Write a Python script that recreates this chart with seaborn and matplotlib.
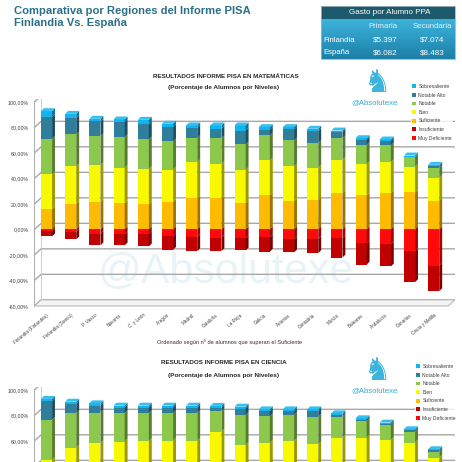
import numpy as np
import matplotlib
matplotlib.use("Agg")
import matplotlib.pyplot as plt
import seaborn as sns
from matplotlib.patches import Polygon, Rectangle, Patch
import matplotlib.colors as mcolors

sns.set_theme(style="white")
plt.rcParams['font.family'] = ['Liberation Sans', 'DejaVu Sans']

# ---------------- data ----------------
regiones = ["Finlandia (Finlandés)", "Finlandia (Sueco)", "P. Vasco", "Navarra", "C. y León",
            "Aragón", "Madrid", "Cataluña", "La Rioja", "Galicia", "Asturias", "Cantabria",
            "Murcia", "Baleares", "Andalucía", "Canarias", "Ceuta y Melilla"]

niveles = ["Sobresaliente", "Notable Alto", "Notable", "Bien", "Suficiente",
           "Insuficiente", "Muy Deficiente"]

# Matemáticas (%)
mat_sobresaliente = [4.7, 3.4, 2.1, 2.1, 3.6, 2.6, 2.1, 2.6, 4.0, 2.1, 1.9, 1.9, 1.3, 1.3, 1.1, 0.8, 1.0]
mat_notable_alto = [17.0, 12.8, 11.5, 11.8, 11.8, 11.3, 7.9, 7.4, 10.9, 4.5, 8.6, 9.4, 4.7, 3.9, 3.6, 0.5, 1.3]
mat_notable = [28.0, 25.1, 23.0, 24.0, 23.0, 22.0, 18.8, 20.1, 19.9, 19.6, 20.4, 19.3, 17.0, 14.9, 13.1, 7.7, 7.9]
mat_bien = [26.9, 29.2, 28.8, 27.8, 28.0, 25.6, 28.5, 27.2, 26.2, 27.4, 27.4, 25.1, 26.1, 24.8, 24.3, 20.0, 17.8]
mat_suficiente = [16.2, 20.2, 21.4, 20.6, 19.6, 21.4, 24.3, 24.3, 20.6, 26.7, 22.0, 23.3, 28.5, 26.7, 28.5, 29.0, 22.7]
mat_muy_deficiente = [1.5, 2.0, 3.4, 3.9, 3.4, 5.5, 6.0, 6.5, 6.8, 6.0, 7.8, 7.3, 6.8, 11.0, 11.5, 17.0, 28.4]
mat_insuficiente = [4.0, 5.8, 9.1, 8.6, 9.9, 10.5, 11.0, 10.5, 9.7, 11.4, 10.2, 11.3, 15.2, 16.5, 17.5, 24.3, 20.0]

# Ciencia (%) - lower part of the chart is cut off in the picture
cie_sobresaliente = [2.0, 1.8, 1.7, 1.5, 1.5, 1.5, 1.5, 1.5, 1.5, 1.5, 1.5, 1.5, 1.2, 1.1, 1.0, 1.0, 0.8]
cie_notable_alto = [14.5, 7.3, 5.6, 4.5, 4.5, 4.5, 4.5, 2.6, 5.0, 4.0, 3.0, 4.5, 1.5, 1.3, 1.2, 1.0, 1.2]
cie_notable = [31.4, 26.9, 24.0, 22.2, 21.7, 21.4, 21.7, 16.1, 23.5, 20.6, 20.3, 21.4, 16.4, 12.8, 11.4, 8.5, 4.5]
cie_bien = [27.0, 30.5, 31.0, 31.5, 31.0, 31.0, 32.0, 35.0, 30.5, 31.0, 32.0, 31.0, 33.0, 33.5, 32.5, 31.0, 26.0]
cie_suficiente = [18.1, 24.3, 27.2, 28.0, 29.0, 29.3, 28.0, 32.3, 26.4, 27.7, 28.0, 26.4, 29.6, 29.1, 28.3, 27.7, 21.0]

colores = {"Sobresaliente": "#12b4ee", "Notable Alto": "#2f7f9c", "Notable": "#8cc84b",
           "Bien": "#f8f800", "Suficiente": "#ffbb00", "Insuficiente": "#c00000",
           "Muy Deficiente": "#ff0a0a"}

yticks = [-60, -40, -20, 0, 20, 40, 60, 80, 100]

# ---------------- figure ----------------
W_PX = 462
fig = plt.figure(figsize=(4.62, 4.62), dpi=100)
fig.patch.set_facecolor("white")

def fx(px):
    return px / W_PX

def fy(py):
    return (W_PX - py) / W_PX

BAR_W = 0.46
DX, DY = 0.12, 2.3          # 3D depth in data units
WX, WY = 0.28, 4.8          # back wall offset


def shade(c, f):
    r, g, b = mcolors.to_rgb(c)
    return (r * f, g * f, b * f)


def lighten(c, f):
    r, g, b = mcolors.to_rgb(c)
    return (r + (1 - r) * f, g + (1 - g) * f, b + (1 - b) * f)


def draw_chart(ax, cats, pos_names, pos_vals, neg_names, neg_vals, show_xlabels=True,
               min_label=-60):
    n = len(cats)
    x = np.arange(n)
    xl0, xl1 = -0.5, 16.88
    ax.set_facecolor("none")
    # back wall grid lines (3D-ish)
    for v in yticks:
        ax.plot([xl0, xl0 + WX, xl1], [v, v + WY, v + WY], color="#a8a8a8", lw=1.0, zorder=0.5,
                solid_joinstyle="miter")
    ax.plot([xl0, xl0], [-60, 100], color="#b0b0b0", lw=0.8, zorder=0.5)
    ax.plot([xl0 + WX, xl0 + WX], [-60 + WY, 100 + WY], color="#c8c8c8", lw=0.6, zorder=0.5)
    # floor
    ax.fill([xl0, xl0 + WX, xl1, xl1 - WX], [-60, -60 + WY, -60 + WY, -60], color="#f4f4f4",
            edgecolor="#b8b8b8", lw=0.8, zorder=0.6)

    pos = np.array(pos_vals, dtype=float)          # bottom -> top order
    cum = np.cumsum(pos, axis=0)
    for i in range(len(pos) - 1, -1, -1):
        sns.barplot(x=list(cats), y=cum[i], color=colores[pos_names[i]], width=BAR_W,
                    saturation=1, errorbar=None, ax=ax, linewidth=0, zorder=2)
    if neg_vals is not None:
        neg = np.array(neg_vals, dtype=float)       # near zero -> far
        ncum = -np.cumsum(neg, axis=0)
        for i in range(len(neg) - 1, -1, -1):
            sns.barplot(x=list(cats), y=ncum[i], color=colores[neg_names[i]], width=BAR_W,
                        saturation=1, errorbar=None, ax=ax, linewidth=0, zorder=2)
    # side faces and tops
    segs = []
    bottoms = np.vstack([np.zeros(n), cum[:-1]])
    for i in range(len(pos)):
        segs.append((bottoms[i], cum[i], pos_names[i]))
    if neg_vals is not None:
        nb = np.vstack([np.zeros(n), ncum[:-1]])
        for i in range(len(neg)):
            segs.append((ncum[i], nb[i], neg_names[i]))
    for j in range(n):
        xr = x[j] + BAR_W / 2
        for b, t, name in segs:
            if t[j] - b[j] <= 0:
                continue
            ax.add_patch(Polygon([(xr, b[j]), (xr + DX, b[j] + DY), (xr + DX, t[j] + DY), (xr, t[j])],
                                 closed=True, facecolor=shade(colores[name], 0.62),
                                 edgecolor="none", zorder=2.1))
        top = cum[-1][j]
        ax.add_patch(Polygon([(x[j] - BAR_W / 2, top), (x[j] - BAR_W / 2 + DX, top + DY),
                              (xr + DX, top + DY), (xr, top)], closed=True,
                             facecolor=lighten(colores[pos_names[-1]], 0.15), edgecolor="none",
                             zorder=2.1))
    ax.set_xlim(xl0, xl1)
    ax.set_ylim(-62, 102)
    shown = [v for v in yticks if v >= min_label]
    ax.set_yticks(shown)
    ax.set_yticklabels([f"{v:.2f}%".replace(".", ",") for v in shown], fontsize=3.8, color="#404040")
    ax.set_xticks(x)
    if show_xlabels:
        ax.set_xticklabels(cats, rotation=40, ha="right", va="top", rotation_mode="anchor",
                           fontsize=3.3, color="#404040")
    else:
        ax.set_xticklabels([])
    ax.tick_params(axis="both", length=0)
    ax.tick_params(axis="y", pad=4)
    ax.tick_params(axis="x", pad=3)
    ax.set_xlabel("")
    ax.set_ylabel("")
    for s in ax.spines.values():
        s.set_visible(False)
    ax.grid(False)


pos_names = ["Suficiente", "Bien", "Notable", "Notable Alto", "Sobresaliente"]
neg_names = ["Muy Deficiente", "Insuficiente"]

# big watermark (behind the bars)
fig.text(fx(226), fy(272), "@Absolutexe", fontsize=31, color="#e8f3f8", ha="center",
         va="center", zorder=-1)

ax1 = fig.add_axes([fx(34.4), fy(308.5), 420.6 / W_PX, 209.1 / W_PX])
draw_chart(ax1, regiones, pos_names,
           [mat_suficiente, mat_bien, mat_notable, mat_notable_alto, mat_sobresaliente],
           neg_names, [mat_muy_deficiente, mat_insuficiente])

# science chart: only its upper part fits in the picture
ax2 = fig.add_axes([fx(34.4), fy(596.5), 420.6 / W_PX, 209.1 / W_PX])
draw_chart(ax2, regiones, pos_names,
           [cie_suficiente, cie_bien, cie_notable, cie_notable_alto, cie_sobresaliente],
           None, None, show_xlabels=False, min_label=60)

# legends
handles = [Patch(facecolor=colores[k], edgecolor="none") for k in niveles]
for ax, lx, ly in [(ax1, 411, 83), (ax2, 415, 363)]:
    lg = ax.legend(handles, niveles, loc="upper left", bbox_to_anchor=(fx(lx), fy(ly)),
                   bbox_transform=fig.transFigure, fontsize=3.6, handlelength=0.8,
                   handleheight=0.8, handletextpad=0.5, labelspacing=0.72, borderpad=0.2,
                   borderaxespad=0, frameon=True, fancybox=False)
    lg.get_frame().set_facecolor("white")
    lg.get_frame().set_edgecolor("none")
    for t in lg.get_texts():
        t.set_color("#404040")

# logos
for cy, ty in [(83, 103), (371, 391)]:
    fig.text(fx(377), fy(cy), "\u265e", fontsize=22, color="#3cb4dc", ha="center", va="center",
             family=["DejaVu Sans"])
    fig.text(fx(375), fy(ty), "@Absolutexe", fontsize=5.6, color="#35a9d6", ha="center",
             va="center")

# chart titles
fig.text(fx(226), fy(77), "RESULTADOS INFORME PISA EN MATEMÁTICAS", fontsize=4.5,
         weight="bold", color="#262626", ha="center", va="center")
fig.text(fx(224), fy(88), "(Porcentaje de Alumnos por Niveles)", fontsize=4.6,
         weight="bold", color="#262626", ha="center", va="center")
fig.text(fx(224), fy(363), "RESULTADOS INFORME PISA EN CIENCIA", fontsize=4.5,
         weight="bold", color="#262626", ha="center", va="center")
fig.text(fx(224), fy(375), "(Porcentaje de Alumnos por Niveles)", fontsize=4.6,
         weight="bold", color="#262626", ha="center", va="center")
fig.text(fx(230), fy(342), "Ordenado según nº de alumnos que superan el Suficiente",
         fontsize=4.1, color="#4a2424", ha="center", va="center")

# main title
fig.text(fx(14), fy(14.2), "Comparativa por Regiones del Informe PISA", fontsize=8.1,
         weight="bold", color="#2b6f86", ha="left", va="baseline")
fig.text(fx(14), fy(26.5), "Finlandia Vs. España", fontsize=8.1,
         weight="bold", color="#2b6f86", ha="left", va="baseline")

# spending table
tab_ax = fig.add_axes([fx(321), fy(59), fx(455) - fx(321), (59 - 19) / W_PX])
grad = np.linspace(0, 1, 50).reshape(-1, 1)
cmap = mcolors.LinearSegmentedColormap.from_list("g", ["#3db3da", "#1c80a8"])
tab_ax.imshow(grad, aspect="auto", cmap=cmap, extent=[0, 1, 0, 1], origin="upper")
tab_ax.set_axis_off()
fig.add_artist(Rectangle((fx(321), fy(19)), fx(455) - fx(321), (19 - 6) / W_PX,
                         transform=fig.transFigure, facecolor="#1d5a6d", edgecolor="none"))
fig.add_artist(Rectangle((fx(321), fy(59)), fx(455) - fx(321), (59 - 6) / W_PX,
                         transform=fig.transFigure, facecolor="none", edgecolor="#9fb8c0", lw=0.6))

tabla_filas = ["Finlandia", "España"]
tabla_cols = ["Primaria", "Secundaria"]
gasto_primaria = ["$5.397", "$6.082"]
gasto_secundaria = ["$7.074", "$8.483"]

fig.text(fx(390), fy(12.8), "Gasto por Alumno PPA", fontsize=5.8, color="white",
         ha="center", va="center")
col_x = [383, 432]
for cx, c in zip(col_x, tabla_cols):
    fig.text(fx(cx), fy(27), c, fontsize=5.6, color="#e0f4fb", ha="center", va="center")
for ry, r, p, s in zip([40, 53], tabla_filas, gasto_primaria, gasto_secundaria):
    fig.text(fx(323), fy(ry), r, fontsize=5.6, color="white", ha="left", va="center")
    fig.text(fx(col_x[0] + 2), fy(ry), p, fontsize=5.8, color="white", ha="center", va="center")
    fig.text(fx(col_x[1]), fy(ry), s, fontsize=5.8, color="white", ha="center", va="center")

fig.savefig("out.png", dpi=100)
